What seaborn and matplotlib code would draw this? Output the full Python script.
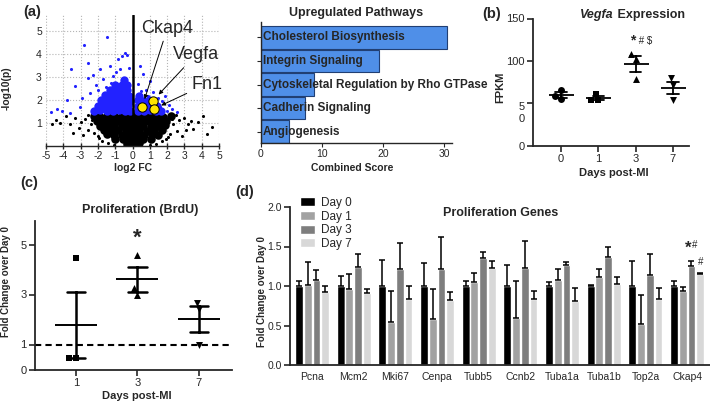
import numpy as np
import pandas as pd
import matplotlib
matplotlib.use("Agg")
import matplotlib.pyplot as plt
import matplotlib.transforms as mtransforms
import seaborn as sns

# ---------------- data ----------------
# (a) volcano plot: dense core / scattered points
black_core_x = [-0.3, 0.05, 0.35,
                -1.0, -0.55, -0.15, 0.2, 0.6, 1.05,
                -1.45, -1.05, -0.6, -0.2, 0.25, 0.65, 1.1, 1.45,
                -1.65, -1.25, -0.85, -0.4, 0.0, 0.4, 0.85, 1.25, 1.7,
                -1.85, -1.45, -1.05, -0.6, -0.2, 0.2, 0.6, 1.05, 1.45, 1.85,
                -2.05, -1.65, -1.25, -0.85, -0.45, -0.05, 0.35, 0.75, 1.15, 1.55, 1.95,
                -2.25, -1.85, -1.45, -1.05, -0.65, -0.25, 0.15, 0.55, 0.95, 1.35, 1.75, 2.2]
black_core_y = [0.12, 0.1, 0.13,
                0.32, 0.3, 0.28, 0.3, 0.31, 0.33,
                0.52, 0.5, 0.49, 0.51, 0.5, 0.48, 0.52, 0.5,
                0.7, 0.71, 0.69, 0.7, 0.72, 0.7, 0.68, 0.71, 0.7,
                0.9, 0.88, 0.91, 0.9, 0.89, 0.92, 0.9, 0.88, 0.9, 0.91,
                1.1, 1.09, 1.1, 1.12, 1.1, 1.08, 1.1, 1.11, 1.09, 1.1, 1.12,
                1.3, 1.29, 1.31, 1.3, 1.28, 1.3, 1.31, 1.29, 1.3, 1.3, 1.29, 1.3]
black_edge_x = [-2.55, -2.75, -2.95, -3.3, -3.6, -3.85, -4.2, -4.65, -2.4, -2.6, -2.2, -1.95, -1.75, -1.4,
                -1.05, -2.85, -3.1, -3.45, -2.35, -2.0,
                2.5, 2.7, 2.95, 3.2, 3.5, 3.8, 4.05, 4.6, 2.35, 2.55, 2.15, 1.95, 1.7, 1.35, 1.0, 2.85,
                3.1, 3.4, 2.3, 2.05, 4.3, -4.4]
black_edge_y = [1.35, 1.2, 1.05, 1.25, 0.95, 1.3, 1.0, 0.95, 0.95, 0.7, 0.6, 0.35, 0.25, 0.15,
                0.08, 0.5, 0.8, 0.6, 1.15, 0.45,
                1.35, 1.15, 1.25, 0.95, 0.75, 1.05, 1.3, 0.85, 0.95, 0.65, 0.55, 0.3, 0.22, 0.12, 0.06, 0.45,
                0.7, 1.1, 1.2, 0.4, 0.55, 1.15]
blue_core_x = [-2.2, -1.85, -1.5, -1.15, -0.8, -0.45, -0.15,
               -2.0, -1.65, -1.3, -0.95, -0.6, -0.25,
               -1.8, -1.45, -1.1, -0.75, -0.4, -0.15,
               -1.6, -1.25, -0.9, -0.55, -0.2,
               -1.3, -0.95, -0.6, -0.3,
               -1.0, -0.6, -0.3,
               -0.5,
               0.3, 0.65, 1.0, 1.35, 1.65,
               0.3, 0.65, 1.0, 1.4,
               0.3, 0.6, 0.95,
               0.35]
blue_core_y = [1.55, 1.56, 1.54, 1.55, 1.56, 1.55, 1.54,
               1.77, 1.76, 1.78, 1.77, 1.76, 1.78,
               1.99, 2.0, 1.98, 1.99, 2.0, 1.98,
               2.21, 2.2, 2.22, 2.21, 2.2,
               2.43, 2.42, 2.44, 2.43,
               2.65, 2.66, 2.64,
               2.87,
               1.55, 1.54, 1.56, 1.55, 1.55,
               1.77, 1.76, 1.78, 1.77,
               1.99, 1.98, 2.0,
               2.2]
blue_edge_x = [-4.7, -4.35, -4.05, -3.8, -3.55, -3.3, -3.05, -2.8, -2.6, -2.45, -2.3, -2.1, -1.9, -1.7, -1.5,
               -1.3, -1.1, -0.85, -0.6, -0.45, -0.3, -0.2, -2.9, -2.55, -3.6, -1.55, -2.0, -0.95, -1.25, -0.7,
               0.3, 0.45, 0.6, 0.8, 1.0, 1.2, 1.45, 1.7, 1.9, 2.1, 2.3, 2.6, 2.0, 0.5, 0.9, 1.6]
blue_edge_y = [1.5, 1.6, 1.55, 2.0, 3.35, 2.6, 1.7, 4.4, 3.6, 2.3, 3.1, 2.65, 3.35, 2.9, 4.75,
               3.5, 3.05, 3.8, 3.9, 4.05, 3.95, 3.4, 2.1, 2.95, 1.45, 2.55, 2.45, 3.2, 2.75, 3.35,
               2.7, 3.5, 3.15, 2.45, 2.85, 2.35, 2.1, 1.95, 2.2, 1.8, 1.6, 1.5, 1.55, 2.4, 2.2, 1.7]
highlight_genes = ["Ckap4", "Vegfa", "Fn1"]
highlight_x = [0.55, 1.18, 1.22]
highlight_y = [1.70, 1.98, 1.62]

# (a) enrichment
pathways = ["Cholesterol Biosynthesis", "Integrin Signaling",
            "Cytoskeletal Regulation by Rho GTPase", "Cadherin Signaling", "Angiogenesis"]
combined_score = [30.5, 19.4, 8.7, 7.3, 4.6]

# (b) Vegfa FPKM
vegfa_days = ["0", "1", "3", "7"]
vegfa_day0 = [66.0, 58.8, 54.8]
vegfa_day1 = [60.8, 54.0, 53.2]
vegfa_day3 = [108.0, 102.0, 78.0]
vegfa_day7 = [79.2, 71.2, 54.0]

# (c) BrdU
brdu_days = ["1", "3", "7"]
brdu_day1 = [4.45, 0.45, 0.45]
brdu_day3 = [4.6, 3.0, 3.25]
brdu_day7 = [2.68, 2.41, 0.97]

# (d) proliferation genes
genes = ["Pcna", "Mcm2", "Mki67", "Cenpa", "Tubb5", "Ccnb2", "Tuba1a", "Tuba1b", "Top2a", "Ckap4"]
day_labels = ["Day 0", "Day 1", "Day 3", "Day 7"]
fc_day0 = [1.0, 1.0, 1.0, 1.0, 1.0, 1.0, 1.0, 1.0, 1.0, 1.0]
fc_day1 = [1.01, 0.96, 0.54, 0.58, 1.05, 0.59, 1.08, 1.12, 0.52, 0.94]
fc_day3 = [1.08, 1.24, 1.21, 1.21, 1.35, 1.23, 1.26, 1.37, 1.14, 1.25]
fc_day7 = [0.92, 0.91, 0.83, 0.82, 1.23, 0.84, 0.81, 1.03, 0.84, 1.15]
sem_day0 = [0.06, 0.13, 0.33, 0.29, 0.06, 0.27, 0.05, 0.01, 0.32, 0.06]
sem_day1 = [0.30, 0.19, 0.40, 0.38, 0.12, 0.47, 0.13, 0.10, 0.37, 0.05]
sem_day3 = [0.12, 0.16, 0.34, 0.41, 0.08, 0.34, 0.04, 0.13, 0.27, 0.07]
sem_day7 = [0.08, 0.05, 0.17, 0.10, 0.09, 0.10, 0.16, 0.09, 0.13, 0.02]

# ---------------- figure ----------------
sns.set_style("ticks")
plt.rcParams["font.family"] = ["Liberation Sans", "DejaVu Sans"]
plt.rcParams["axes.unicode_minus"] = False

W, H = 710, 404
fig = plt.figure(figsize=(W / 100, H / 100), dpi=100)


def rect(l, t, r, b):
    return [l / W, 1 - b / H, (r - l) / W, (b - t) / H]


def ftext(x, y, s, **kw):
    fig.text(x / W, 1 - y / H, s, ha="center", va="center", **kw)


# ----- (a) volcano -----
ax = fig.add_axes(rect(46, 14.7, 219, 146.4))
ax.grid(True, ls=":", color="#b5b5b5", lw=0.8)
ax.set_axisbelow(True)
sns.scatterplot(x=black_core_x, y=black_core_y, color="black", s=38, linewidth=0, ax=ax)
sns.scatterplot(x=black_edge_x, y=black_edge_y, color="black", s=5, linewidth=0, ax=ax)
sns.scatterplot(x=blue_core_x, y=blue_core_y, color="#2222ff", s=36, linewidth=0, ax=ax)
sns.scatterplot(x=blue_edge_x, y=blue_edge_y, color="#2222ff", s=5, linewidth=0, ax=ax)
ax.axvline(0, color="black", lw=1.8)
sns.scatterplot(x=highlight_x, y=highlight_y, color="#ffe600", edgecolor="black", s=45, linewidth=0.7,
                zorder=5, ax=ax)
label_pos = [(2.02, 5.12), (3.65, 3.96), (4.29, 2.70)]
for name, px, py, (tx, ty) in zip(highlight_genes, highlight_x, highlight_y, label_pos):
    ax.annotate(name, xy=(px, py), xytext=(tx, ty), ha="center", va="center", fontsize=13,
                arrowprops=dict(arrowstyle="-|>", color="black", lw=0.7, shrinkA=1, shrinkB=6,
                                mutation_scale=6))
ax.set_xlim(-5, 5)
ax.set_ylim(0, 5.7)
ax.set_xticks(range(-5, 6))
ax.set_yticks(range(1, 6))
for s in ["left", "top", "right"]:
    ax.spines[s].set_visible(False)
ax.spines["bottom"].set_linewidth(1.0)
ax.tick_params(axis="y", length=0, labelsize=7.5, pad=3)
ax.tick_params(axis="x", direction="inout", length=5, width=1.0, labelsize=7.5, pad=1)
ftext(7, 88, "-log10(p)", rotation=90, fontsize=7.5, fontweight="bold")
ftext(133, 168, "log2 FC", fontsize=7.5, fontweight="bold")
ftext(32, 12, "(a)", fontsize=10.5, fontweight="bold")

# ----- (a) pathways -----
ax = fig.add_axes(rect(260.7, 22, 452, 143))
sns.barplot(x=combined_score, y=pathways, orient="h", color="#4f8fe8", saturation=1,
            edgecolor="#213f73", linewidth=0.8, width=0.95, ax=ax)
for yy, name in zip(ax.get_yticks(), pathways):
    ax.text(0.3, yy, name, ha="left", va="center", fontsize=8.5, fontweight="bold")
ax.set_xlim(0, 31.3)
ax.set_ylim(4.48, -0.65)
ax.set_yticklabels([])
ax.set_xticks([0, 10, 20, 30])
ax.set_xlabel("")
ax.set_ylabel("")
sns.despine(ax=ax)
ax.tick_params(axis="y", length=3, width=0.8)
ax.tick_params(axis="x", length=3, width=0.8, labelsize=7.5, pad=1.5)
for s in ["left", "bottom"]:
    ax.spines[s].set_linewidth(1.0)
ftext(356, 13, "Upregulated Pathways", fontsize=9, fontweight="bold")
ftext(352, 168, "Combined Score", fontsize=7.5, fontweight="bold")

# ----- (b) Vegfa -----
ax = fig.add_axes(rect(533, 18.5, 689, 145.5))
vegfa_df = pd.DataFrame({"day": np.repeat(vegfa_days, 3),
                         "fpkm": vegfa_day0 + vegfa_day1 + vegfa_day3 + vegfa_day7})
for day, vals, mk in zip(vegfa_days, [vegfa_day0, vegfa_day1, vegfa_day3, vegfa_day7], ["o", "s", "^", "v"]):
    sns.swarmplot(x=[day] * len(vals), y=vals, order=vegfa_days, marker=mk, color="black", size=5, ax=ax)
sns.pointplot(data=vegfa_df, x="day", y="fpkm", order=vegfa_days, errorbar="se", capsize=0.3,
              linestyle="none", marker="_", markersize=18, markeredgewidth=1.3, color="black",
              err_kws={"linewidth": 1.3}, ax=ax)
ax.set_xlim(-0.75, 3.43)
ax.set_ylim(0, 150)
ax.set_yticks([0, 50, 100, 150])
ax.set_yticklabels(["0", "5\n0", "100", "150"])
ax.set_xlabel("")
ax.set_ylabel("")
sns.despine(ax=ax)
for s in ["left", "bottom"]:
    ax.spines[s].set_linewidth(1.3)
ax.tick_params(length=4, width=1.2, labelsize=8, pad=2)
# the "50" label is split over two lines in the original; nudge it down
lab50 = ax.get_yticklabels()[1]
lab50.set_transform(lab50.get_transform() +
                    mtransforms.ScaledTranslation(0, -6 / 72, fig.dpi_scale_trans))
ax.text(2, 124, "*", ha="right", va="center", fontsize=10, fontweight="bold")
ax.text(2, 124, " # $", ha="left", va="center", fontsize=7)
ftext(492, 14, "(b)", fontsize=10.5, fontweight="bold")
fig.text(614 / W, 1 - 15 / H, "Vegfa", ha="right", va="center", fontsize=9, fontweight="bold", style="italic")
fig.text(614 / W, 1 - 15 / H, " Expression", ha="left", va="center", fontsize=9, fontweight="bold")
ftext(500, 87, "FPKM", rotation=90, fontsize=8, fontweight="bold")
ftext(614, 173, "Days post-MI", fontsize=8, fontweight="bold")

# ----- (c) BrdU -----
ax = fig.add_axes(rect(35, 221, 232, 369.5))
brdu_df = pd.DataFrame({"day": np.repeat(brdu_days, 3), "fc": brdu_day1 + brdu_day3 + brdu_day7})
ax.axhline(1, ls="--", color="black", lw=1.5, dashes=(3, 2))
for day, vals, mk in zip(brdu_days, [brdu_day1, brdu_day3, brdu_day7], ["s", "^", "v"]):
    sns.swarmplot(x=[day] * len(vals), y=vals, order=brdu_days, marker=mk, color="black", size=5, ax=ax)
sns.pointplot(data=brdu_df, x="day", y="fc", order=brdu_days, errorbar="se", capsize=0.3,
              linestyle="none", marker="_", markersize=30, markeredgewidth=1.4, color="black",
              err_kws={"linewidth": 1.8}, ax=ax)
ax.set_xlim(-0.67, 2.54)
ax.set_ylim(0, 5.94)
ax.set_yticks([0, 1, 3, 5])
ax.set_xlabel("")
ax.set_ylabel("")
sns.despine(ax=ax)
for s in ["left", "bottom"]:
    ax.spines[s].set_linewidth(1.3)
ax.tick_params(length=4, width=1.2, labelsize=8, pad=2)
ax.text(1, 5.24, "*", ha="center", va="center", fontsize=16, fontweight="bold")
ftext(29, 183, "(c)", fontsize=10.5, fontweight="bold")
ftext(140, 210, "Proliferation (BrdU)", fontsize=9, fontweight="bold")
ftext(6, 282, "Fold Change over Day 0", rotation=90, fontsize=7, fontweight="bold")
ftext(137, 396, "Days post-MI", fontsize=8, fontweight="bold")

# ----- (d) proliferation genes -----
ax = fig.add_axes(rect(290, 207, 710, 365))
genes_df = pd.DataFrame({"gene": genes * 4, "day": np.repeat(day_labels, len(genes)),
                         "fc": fc_day0 + fc_day1 + fc_day3 + fc_day7})
palette = ["#000000", "#a2a2a2", "#7e7e7e", "#d8d8d8"]
sns.barplot(data=genes_df, x="gene", y="fc", hue="day", hue_order=day_labels, palette=palette,
            saturation=1, errorbar=None, width=0.84, gap=0.1, ax=ax)
for cont, sems in zip(ax.containers, [sem_day0, sem_day1, sem_day3, sem_day7]):
    for bar, se in zip(cont, sems):
        ax.errorbar(bar.get_x() + bar.get_width() / 2, bar.get_height(), yerr=[[0], [se]],
                    color="black", lw=1.1, capsize=2.2, capthick=1.1)
d3 = ax.containers[2][genes.index("Ckap4")]
d7 = ax.containers[3][genes.index("Ckap4")]
ax.text(d3.get_x() + d3.get_width() / 2, 1.48, "*", ha="right", va="center", fontsize=12, fontweight="bold")
ax.text(d3.get_x() + d3.get_width() / 2, 1.52, "#", ha="left", va="center", fontsize=7)
ax.text(d7.get_x() + d7.get_width() / 2, 1.31, "#", ha="center", va="center", fontsize=7)
ax.set_xlim(-0.53, 9.55)
ax.set_ylim(0, 2)
ax.set_yticks([0, 0.5, 1.0, 1.5, 2.0])
ax.set_yticklabels(["0.0", "0.5", "1.0", "1.5", "2.0"])
ax.set_xlabel("")
ax.set_ylabel("")
sns.despine(ax=ax)
for s in ["left", "bottom"]:
    ax.spines[s].set_linewidth(1.3)
ax.tick_params(axis="y", length=4, width=1.2, labelsize=7.5, pad=2)
ax.tick_params(axis="x", length=0, labelsize=7.5, pad=5)
ax.legend(loc="upper left", bbox_to_anchor=(0.024, 1.065), frameon=False, fontsize=8.5,
          handlelength=1.3, handleheight=0.8, handletextpad=0.5, labelspacing=0.15,
          borderpad=0, borderaxespad=0)
ftext(245, 192, "(d)", fontsize=10.5, fontweight="bold")
ftext(501, 213, "Proliferation Genes", fontsize=9, fontweight="bold")
ftext(262, 292, "Fold Change over Day 0", rotation=90, fontsize=7, fontweight="bold")

fig.savefig("out.png", dpi=100)
